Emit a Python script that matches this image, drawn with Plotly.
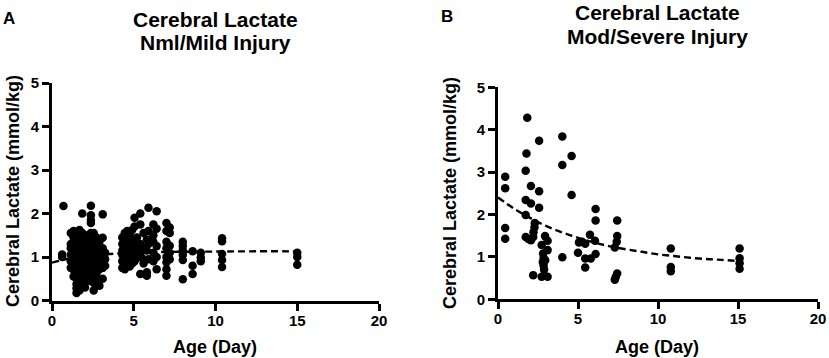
import plotly.graph_objects as go

# ---------------- Data ----------------
# Panel A: Nml/Mild Injury (ages grouped in columns, lactate values per column)
a_age_cols = [0.7, 0.62, 1.15, 1.32, 1.5, 1.68, 1.85, 2.02, 2.2, 2.38, 2.55, 2.72, 2.9, 3.1, 3.25,
              4.3, 4.45, 4.6, 4.75, 4.9, 5.05, 5.2, 5.4, 5.6, 5.8, 5.9, 6.2, 6.4,
              7.0, 7.2, 8.0, 8.6, 9.1, 10.4, 15.0]
a_lactate_cols = [
    [2.17],
    [1.0, 1.06],
    [1.55, 1.3, 1.2, 1.05, 0.9, 0.75],
    [1.6, 1.45, 1.25, 1.1, 0.95, 0.85, 0.7, 0.55],
    [1.35, 1.2, 1.0, 0.9, 0.8, 0.65, 0.5, 0.38, 0.28, 0.17],
    [1.62, 1.5, 1.15, 1.05, 0.95, 0.85, 0.75, 0.6, 0.45, 0.23],
    [2.0, 1.55, 1.4, 1.3, 1.1, 1.0, 0.92, 0.8, 0.7, 0.55, 0.4],
    [1.45, 1.25, 1.15, 1.0, 0.88, 0.78, 0.68, 0.5, 0.3],
    [1.5, 1.35, 1.2, 1.05, 0.95, 0.85, 0.72, 0.6, 0.45],
    [2.18, 1.96, 1.85, 1.78, 1.55, 1.4, 1.25, 1.1, 1.0, 0.9, 0.8, 0.7],
    [1.55, 1.3, 1.2, 1.05, 0.95, 0.82, 0.68, 0.55, 0.4, 0.23],
    [1.45, 1.25, 1.1, 1.0, 0.9, 0.75, 0.62, 0.5],
    [1.35, 1.2, 1.08, 0.95, 0.85, 0.72, 0.34],
    [1.98, 1.44, 1.2, 1.05, 0.9, 0.75, 0.5],
    [1.1, 0.95, 0.8],
    [1.45, 1.3, 1.15, 1.05, 0.9, 0.75],
    [1.55, 1.4, 1.25, 1.1, 1.0, 0.85, 0.72],
    [1.6, 1.35, 1.2, 1.05, 0.95, 0.8],
    [1.5, 1.3, 1.15, 1.0, 0.9, 0.78],
    [1.62, 1.42, 1.25, 1.1, 0.95, 0.85],
    [1.9, 1.7, 1.35, 1.2, 1.0, 0.9],
    [1.45, 1.25, 1.1, 0.98],
    [2.0, 1.75, 1.3, 1.05, 0.61],
    [1.55, 1.2, 0.95, 0.85],
    [1.4, 1.15, 0.57, 0.65],
    [2.13, 1.6, 1.3, 0.95],
    [1.75, 1.5, 1.35, 1.1, 0.9],
    [2.05, 1.65, 1.25, 1.0, 0.72],
    [1.78, 1.6, 1.35, 1.2, 1.0, 0.88, 0.72, 0.57],
    [1.68, 1.55, 1.26, 1.1, 0.95],
    [1.35, 1.26, 1.16, 1.05, 0.93, 0.49],
    [1.13, 0.8, 0.61],
    [1.1, 0.99, 0.9],
    [1.43, 1.36, 1.07, 0.93, 0.77],
    [1.1, 1.0, 0.82],
]
a_fit_age = [0, 1, 2, 3, 4, 5, 6, 8, 10, 12, 15.1]
a_fit_lactate = [0.87, 0.96, 1.01, 1.05, 1.08, 1.10, 1.11, 1.12, 1.125, 1.13, 1.13]

# Panel B: Mod/Severe Injury
b_age = [0.45, 0.45, 0.45, 0.45, 1.83, 1.78, 1.73, 1.73, 2.06, 2.06, 1.73, 1.73, 1.9, 2.06,
         2.2, 2.22, 2.28, 2.3, 2.2, 2.57, 2.57, 2.57, 2.73, 2.94, 3.1, 3.1, 2.82, 2.85, 2.8,
         2.85, 2.88, 2.95, 2.73, 3.1, 4.02, 4.02, 4.02, 4.6, 4.6, 5.06, 5.0, 5.25, 5.45, 5.45,
         5.45, 5.8, 5.75, 6.06, 6.1, 6.1, 6.1, 7.45, 7.45, 7.42, 7.3, 7.45, 7.35, 7.3,
         10.8, 10.8, 10.8, 15.1, 15.1, 15.1, 15.1]
b_lactate = [2.89, 2.62, 1.68, 1.43, 4.28, 3.44, 3.03, 2.34, 2.67, 2.26, 1.99, 1.47, 1.42, 1.39,
             1.47, 1.58, 1.70, 1.80, 0.57, 3.74, 2.55, 2.16, 1.28, 1.49, 1.38, 1.16, 1.08, 0.98, 0.88,
             0.80, 0.70, 0.92, 0.53, 0.53, 3.84, 3.17, 0.99, 3.38, 2.46, 1.34, 1.10, 1.36, 1.31, 0.96,
             0.75, 0.96, 1.52, 1.38, 2.13, 1.86, 1.07, 1.86, 1.49, 1.36, 1.22, 0.61, 0.52, 0.46,
             1.20, 0.76, 0.66, 1.20, 0.97, 0.85, 0.72]
b_fit_age = [0, 1, 2, 3, 4, 5, 6, 7, 8, 9, 10, 11, 12, 13, 14, 15.1]
b_fit_lactate = [2.40, 2.14, 1.92, 1.73, 1.58, 1.45, 1.34, 1.25, 1.18, 1.12, 1.06, 1.02, 0.98, 0.95, 0.93, 0.90]

x_ticks = [0, 5, 10, 15, 20]
y_ticks = [0, 1, 2, 3, 4, 5]
titles = ["Cerebral Lactate", "Nml/Mild Injury", "Mod/Severe Injury"]
x_title = "Age (Day)"
y_title = "Cerebral Lactate (mmol/kg)"

# expand panel A columns
a_age = [x for x, ys in zip(a_age_cols, a_lactate_cols) for _ in ys]
a_lactate = [y for ys in a_lactate_cols for y in ys]

FONT = "Liberation Sans, Arial, Helvetica, sans-serif"
W, H = 829, 358

fig = go.Figure()
marker = dict(size=8.5, color="black")
dash_line = dict(color="black", width=2.4, dash="7px,4px")

fig.add_trace(go.Scatter(x=a_age, y=a_lactate, mode="markers", marker=marker,
                         xaxis="x", yaxis="y", showlegend=False, cliponaxis=False))
fig.add_trace(go.Scatter(x=a_fit_age, y=a_fit_lactate, mode="lines", line=dict(shape="spline", **dash_line),
                         xaxis="x", yaxis="y", showlegend=False))
fig.add_trace(go.Scatter(x=b_age, y=b_lactate, mode="markers", marker=marker,
                         xaxis="x2", yaxis="y2", showlegend=False, cliponaxis=False))
fig.add_trace(go.Scatter(x=b_fit_age, y=b_fit_lactate, mode="lines", line=dict(shape="spline", **dash_line),
                         xaxis="x2", yaxis="y2", showlegend=False))

def ax(**kw):
    d = dict(showline=True, linewidth=3, linecolor="black", ticks="outside", ticklen=7,
             tickwidth=3, tickcolor="black", showgrid=False, zeroline=False, automargin=False,
             tickfont=dict(size=15, family=FONT, color="black", weight="bold"))
    d.update(kw)
    return d

def px_x(p):
    return p / W

def px_y(p):
    return 1 - p / H

fig.update_layout(
    width=W, height=H, margin=dict(l=0, r=0, t=0, b=0, autoexpand=False),
    paper_bgcolor="white", plot_bgcolor="white",
    xaxis=ax(domain=[px_x(52), px_x(379)], range=[0, 20], tickvals=x_ticks, anchor="y",
             ticklabelstandoff=-3),
    yaxis=ax(domain=[px_y(300.5), px_y(83)], range=[0, 5], tickvals=y_ticks, anchor="x"),
    xaxis2=ax(domain=[px_x(498), px_x(818)], range=[0, 20], tickvals=x_ticks, anchor="y2",
              ticklabelstandoff=-3),
    yaxis2=ax(domain=[px_y(299.3), px_y(87.3)], range=[0, 5], tickvals=y_ticks, anchor="x2"),
)

def ann(text, x, y, size, angle=0):
    fig.add_annotation(text=text, x=px_x(x), y=px_y(y), xref="paper", yref="paper",
                       xanchor="center", yanchor="middle", showarrow=False, textangle=angle,
                       font=dict(size=size, family=FONT, color="black", weight="bold"))

ann("A", 9, 18, 17)
ann("B", 447, 17, 17)
ann(titles[0], 215, 19, 21)
ann(titles[1], 215, 43, 21)
ann(titles[0], 657, 13, 21)
ann(titles[2], 657, 36, 21)
ann(y_title, 13, 191, 18, -90)
ann(y_title, 450, 193, 18, -90)
ann(x_title, 215, 347, 18)
ann(x_title, 657, 347, 18)

fig.write_html(
    "out.html",
    config={"displayModeBar": False},
    post_script="document.body.style.margin='0';document.body.style.overflow='hidden';",
)
